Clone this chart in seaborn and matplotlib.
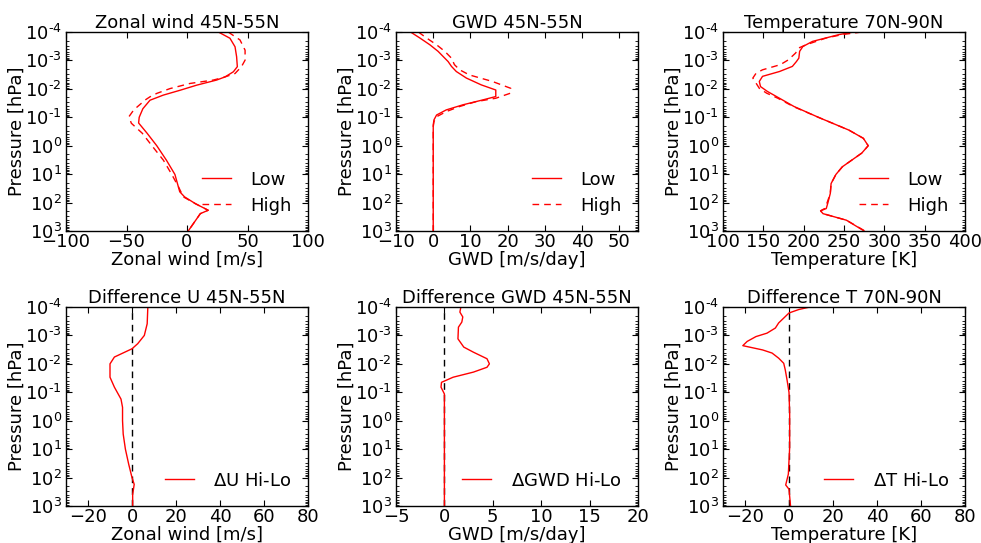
import numpy as np
import matplotlib
matplotlib.use("Agg")
import matplotlib.pyplot as plt
import seaborn as sns
from matplotlib.ticker import LogLocator, NullFormatter, FixedLocator, FuncFormatter

# ---------------- data (pressure given as log10(hPa)) ----------------
# Zonal wind 45N-55N
u_low_lp = [-4.0, -3.78, -3.48, -3.13, -2.78, -2.6, -2.42, -2.31, -2.13, -1.95, -1.78,
            -1.6, -1.3, -1.0, -0.8, -0.44, 0.0, 0.51, 1.01, 1.62, 1.8, 2.04, 2.27, 2.39, 3.0]
u_low = [25.9, 35.5, 39.7, 41.0, 41.6, 38.3, 31.4, 24.5, 8.0, -5.8, -19.6,
         -30.6, -36.5, -39.5, -40.0, -33.0, -25.0, -17.0, -10.0, -6.0, -2.0, 7.0, 17.5, 11.0, 1.0]
u_high_lp = [-4.0, -3.72, -3.36, -3.01, -2.78, -2.54, -2.4, -2.31, -2.19, -2.01, -1.84, -1.72,
             -1.61, -1.26, -1.02, -0.79, -0.44, 0.0, 0.51, 1.01, 1.45, 1.8, 2.04, 2.27, 2.39, 3.0]
u_high = [34.0, 43.8, 48.0, 48.0, 45.0, 39.7, 30.0, 21.8, 2.5, -14.0, -25.0, -30.6,
          -34.5, -44.0, -48.0, -46.0, -37.0, -29.0, -19.5, -12.6, -7.0, -3.0, 7.0, 17.5, 11.0, 1.0]
du_lp = [-4.0, -3.41, -3.0, -2.71, -2.53, -2.24, -2.0, -1.53, -1.18, -0.76, -0.47, 0.0,
         0.47, 1.0, 1.53, 2.0, 2.24, 2.59, 3.0]
du = [7.2, 6.9, 5.6, 2.6, 0.0, -8.0, -10.0, -10.0, -8.0, -5.0, -4.3, -4.3,
      -4.0, -3.0, -1.5, 0.0, 1.0, 0.3, 0.3]

# GWD 45N-55N
g_low_lp = [-4.0, -3.79, -3.55, -3.32, -3.08, -2.96, -2.79, -2.61, -2.38, -2.14, -1.96, -1.73,
            -1.61, -1.44, -1.26, -1.08, -0.91, -0.73, 0.0, 1.0, 2.0, 3.0]
g_low = [-6.1, -3.6, -0.9, 1.3, 3.1, 4.0, 4.9, 6.2, 8.9, 12.9, 16.8, 16.8,
         13.3, 8.0, 3.5, 0.9, 0.2, 0.0, 0.0, 0.0, 0.0, 0.0]
g_high_lp = [-4.0, -3.79, -3.55, -3.32, -3.08, -2.85, -2.67, -2.49, -2.26, -2.02, -1.85, -1.67,
             -1.55, -1.38, -1.2, -1.02, -0.85, -0.67, 0.0, 1.0, 2.0, 3.0]
g_high = [-4.0, -1.8, 0.9, 3.1, 4.9, 5.7, 7.1, 9.7, 15.9, 20.8, 20.8, 16.8,
          11.5, 7.1, 3.5, 0.9, 0.2, 0.0, 0.0, 0.0, 0.0, 0.0]
dg_lp = [-4.0, -3.82, -3.65, -3.47, -3.29, -2.88, -2.59, -2.41, -2.18, -2.0, -1.88, -1.71,
         -1.53, -1.35, -1.18, -0.94, 0.0, 1.0, 2.0, 3.0]
dg = [1.7, 1.6, 1.9, 1.8, 1.45, 1.4, 2.0, 3.0, 4.4, 4.65, 4.4, 3.0,
      0.9, -0.3, -0.35, 0.0, 0.0, 0.0, 0.0, 0.0]

# Temperature 70N-90N
t_low_lp = [-4.0, -3.91, -3.67, -3.49, -3.32, -3.08, -2.96, -2.79, -2.61, -2.44, -2.26, -2.08,
            -1.91, -1.67, -1.38, -0.99, -0.55, -0.26, 0.0, 0.26, 0.5, 0.74, 1.01, 1.33, 1.68,
            2.01, 2.21, 2.29, 2.39, 2.62, 3.0]
t_low = [262, 244, 211, 199, 195, 194, 191, 186, 170, 149, 145, 146.5,
         155, 170, 188, 219, 256, 274, 280, 272, 260, 248, 240, 234, 233,
         230, 228, 221, 224, 253, 275]
t_high_lp = [-4.0, -3.91, -3.79, -3.55, -3.44, -3.26, -3.02, -2.85, -2.67, -2.55, -2.38, -2.2,
             -2.02, -1.85, -1.67, -1.38, -0.99, -0.55, -0.26, 0.0, 0.26, 0.5, 0.74, 1.01, 1.33,
             1.68, 2.01, 2.21, 2.29, 2.39, 2.62, 3.0]
t_high = [272, 248, 228, 203, 194, 190, 181, 171, 149, 141, 137, 141,
          145, 154, 168, 187, 219, 256, 274, 280, 272, 260, 248, 240, 234,
          233, 229, 226, 221, 224, 253, 276]
dt_lp = [-4.0, -3.91, -3.79, -3.61, -3.44, -3.26, -3.08, -2.96, -2.79, -2.64, -2.49, -2.38,
         -2.2, -2.02, -1.79, -1.44, -1.0, -0.24, 0.94, 1.88, 2.26, 2.41, 3.0]
dt = [9.5, 4.4, 0.0, -2.4, -4.7, -6.2, -10.0, -15.0, -19.0, -21.0, -12.0, -7.7,
      -4.7, -2.4, -1.7, -0.9, 0.0, 0.3, 0.3, -0.3, -1.5, 0.0, 0.7]

p_ticks = [1e-4, 1e-3, 1e-2, 1e-1, 1e0, 1e1, 1e2, 1e3]

# ---------------- style ----------------
FS = 13
plt.rcParams.update({
    'font.family': ['DejaVu Sans'],
    'font.size': FS,
    'axes.titlesize': FS,
    'axes.labelsize': FS,
    'xtick.labelsize': FS,
    'ytick.labelsize': FS,
    'legend.fontsize': FS,
    'xtick.direction': 'in',
    'ytick.direction': 'in',
    'xtick.top': True,
    'ytick.right': True,
    'xtick.major.size': 4,
    'ytick.major.size': 4,
    'xtick.minor.size': 2,
    'ytick.minor.size': 2,
    'xtick.major.pad': 1.2,
    'ytick.major.pad': 3,
    'axes.linewidth': 1.0,
    'lines.linewidth': 1.0,
    'legend.frameon': False,
})

W, H = 981, 543
fig = plt.figure(figsize=(W / 100, H / 100), dpi=100, facecolor='white')

lefts = [66, 396, 723]
tops = [32, 307]
aw, ah = 242, 199

def make_ax(col, row):
    l = lefts[col] / W
    b = 1 - (tops[row] + ah) / H
    return fig.add_axes([l, b, aw / W, ah / H])

DASH = (4.8, 3.6)

def pfmt(v, pos):
    e = int(round(np.log10(v)))
    if e < 0:
        return r'$\mathdefault{10^{\text{-}%d}}$' % (-e)
    return r'$\mathdefault{10^{%d}}$' % e

def finish(ax, title, xlabel, xlim, xticks):
    ax.set_yscale('log')
    ax.set_ylim(1e3, 1e-4)
    ax.yaxis.set_major_locator(FixedLocator(p_ticks))
    ax.yaxis.set_major_formatter(FuncFormatter(pfmt))
    ax.yaxis.set_minor_locator(LogLocator(base=10, subs=np.arange(2, 10), numticks=20))
    ax.yaxis.set_minor_formatter(NullFormatter())
    ax.set_xlim(*xlim)
    ax.set_xticks(xticks)
    ax.set_title(title, pad=2.2)
    ax.set_xlabel(xlabel, labelpad=0)
    ax.set_ylabel('Pressure [hPa]')
    ax.yaxis.set_label_coords(-40.5 / aw, 0.5)
    ax.tick_params(which='both', top=True, right=True, direction='in')

def two_lines(ax, lp1, v1, lp2, v2):
    sns.lineplot(x=v1, y=10 ** np.array(lp1), sort=False, estimator=None, ax=ax,
                 color='red', lw=1.0, label='Low')
    sns.lineplot(x=v2, y=10 ** np.array(lp2), sort=False, estimator=None, ax=ax,
                 color='red', lw=1.0, dashes=False, label='High', linestyle=(0, DASH))
    ax.legend(loc='lower right', handlelength=1.6, handletextpad=1.1, labelspacing=0.45,
              borderaxespad=0.5, frameon=False)

def diff_line(ax, lp, v, label):
    ax.axvline(0, color='black', lw=1.0, linestyle=(0, DASH), zorder=1)
    sns.lineplot(x=v, y=10 ** np.array(lp), sort=False, estimator=None, ax=ax,
                 color='red', lw=1.0, label=label, zorder=2)
    ax.legend(loc='lower right', handlelength=1.6, handletextpad=1.1,
              borderaxespad=0.5, frameon=False)

ax = make_ax(0, 0)
two_lines(ax, u_low_lp, u_low, u_high_lp, u_high)
finish(ax, 'Zonal wind 45N-55N', 'Zonal wind [m/s]', (-100, 100), [-100, -50, 0, 50, 100])

ax = make_ax(1, 0)
two_lines(ax, g_low_lp, g_low, g_high_lp, g_high)
finish(ax, 'GWD 45N-55N', 'GWD [m/s/day]', (-10, 55), [-10, 0, 10, 20, 30, 40, 50])

ax = make_ax(2, 0)
two_lines(ax, t_low_lp, t_low, t_high_lp, t_high)
finish(ax, 'Temperature 70N-90N', 'Temperature [K]', (100, 400), [100, 150, 200, 250, 300, 350, 400])

ax = make_ax(0, 1)
diff_line(ax, du_lp, du, r'$\Delta$U Hi-Lo')
finish(ax, 'Difference U 45N-55N', 'Zonal wind [m/s]', (-30, 80), [-20, 0, 20, 40, 60, 80])

ax = make_ax(1, 1)
diff_line(ax, dg_lp, dg, r'$\Delta$GWD Hi-Lo')
finish(ax, 'Difference GWD 45N-55N', 'GWD [m/s/day]', (-5, 20), [-5, 0, 5, 10, 15, 20])

ax = make_ax(2, 1)
diff_line(ax, dt_lp, dt, r'$\Delta$T Hi-Lo')
finish(ax, 'Difference T 70N-90N', 'Temperature [K]', (-30, 80), [-20, 0, 20, 40, 60, 80])

fig.savefig('out.png', dpi=100, facecolor='white')
